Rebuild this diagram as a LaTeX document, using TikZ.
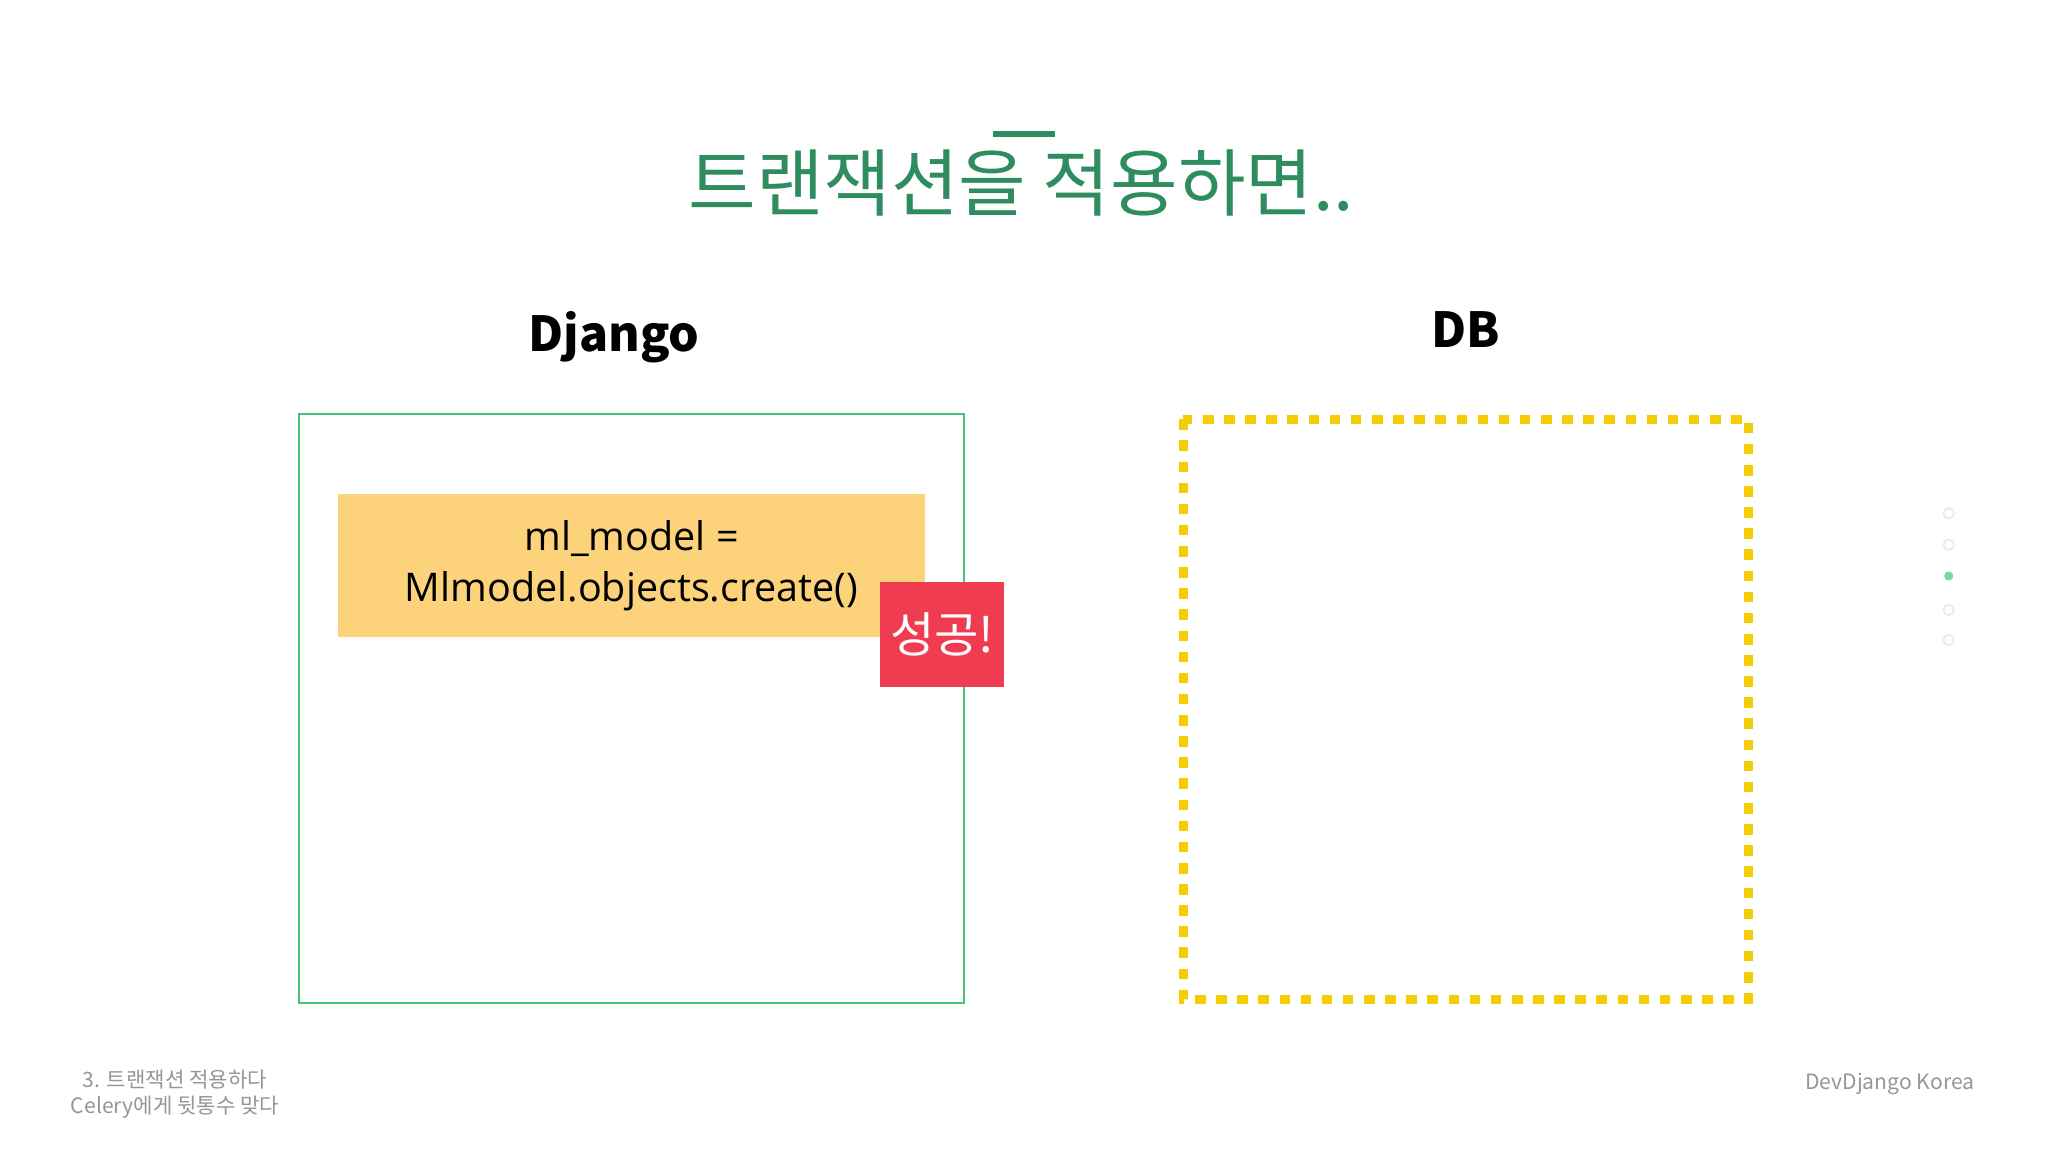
\documentclass[tikz,border=0pt]{standalone}
\usepackage{fontspec}
\setmainfont{Open Sans}
\newfontfamily\kr{Noto Sans CJK KR}
\definecolor{titlegreen}{RGB}{46,140,95}
\definecolor{boxgreen}{RGB}{70,195,120}
\definecolor{codeyellow}{RGB}{252,211,122}
\definecolor{okred}{RGB}{240,60,80}
\definecolor{dbyellow}{RGB}{245,205,0}
\definecolor{footgray}{RGB}{150,150,150}
\tikzset{
  px/.style={x=0.01cm,y=-0.01cm},
  foot/.style={text=footgray,font=\kr\fontsize{4.6}{5.6}\selectfont,align=center}
}
\begin{document}
\begin{tikzpicture}[px]
\useasboundingbox[fill=white] (0,0) rectangle (1568,882);
\node (title) at (782,140) {\kr\fontsize{16}{18}\selectfont\color{titlegreen}트랜잭션을 적용하면..};
\fill[titlegreen] (760,100) rectangle (808,105);
\node (dj) at (470,258) {\kr\bfseries\fontsize{10.5}{12}\selectfont Django};
\node (db) at (1122,252) {\kr\bfseries\fontsize{10.5}{12}\selectfont DB};
\node[draw=boxgreen,line width=0.4pt,minimum width=5.09cm,minimum height=4.51cm] (djbox) at (483.5,542.5) {};
\node[fill=codeyellow,minimum width=4.49cm,minimum height=1.09cm,align=center,font=\fontsize{8.6}{11}\selectfont] (code) at (483.5,433) {ml\_model =\\Mlmodel.objects.create()};
\node[fill=okred,text=white,inner sep=0pt,minimum width=0.95cm,minimum height=0.8cm,font=\kr\fontsize{10.5}{12}\selectfont] (ok) at (721.5,486) {성공!};
\draw[dbyellow,line width=2pt,dash pattern=on 2.3pt off 2.3pt] (906,321) rectangle (1339,765);
\foreach \yy in {393,417,467,490} \fill[white,draw=black!8] (1492,\yy) circle (4);
\fill[boxgreen!70] (1492,441) circle (3.5);
\node[foot] (f1) at (134,838) {3. 트랜잭션 적용하다\\Celery에게 뒷통수 맞다};
\node[foot,anchor=east] (f2) at (1524,830) {DevDjango Korea};
\end{tikzpicture}
\end{document}
